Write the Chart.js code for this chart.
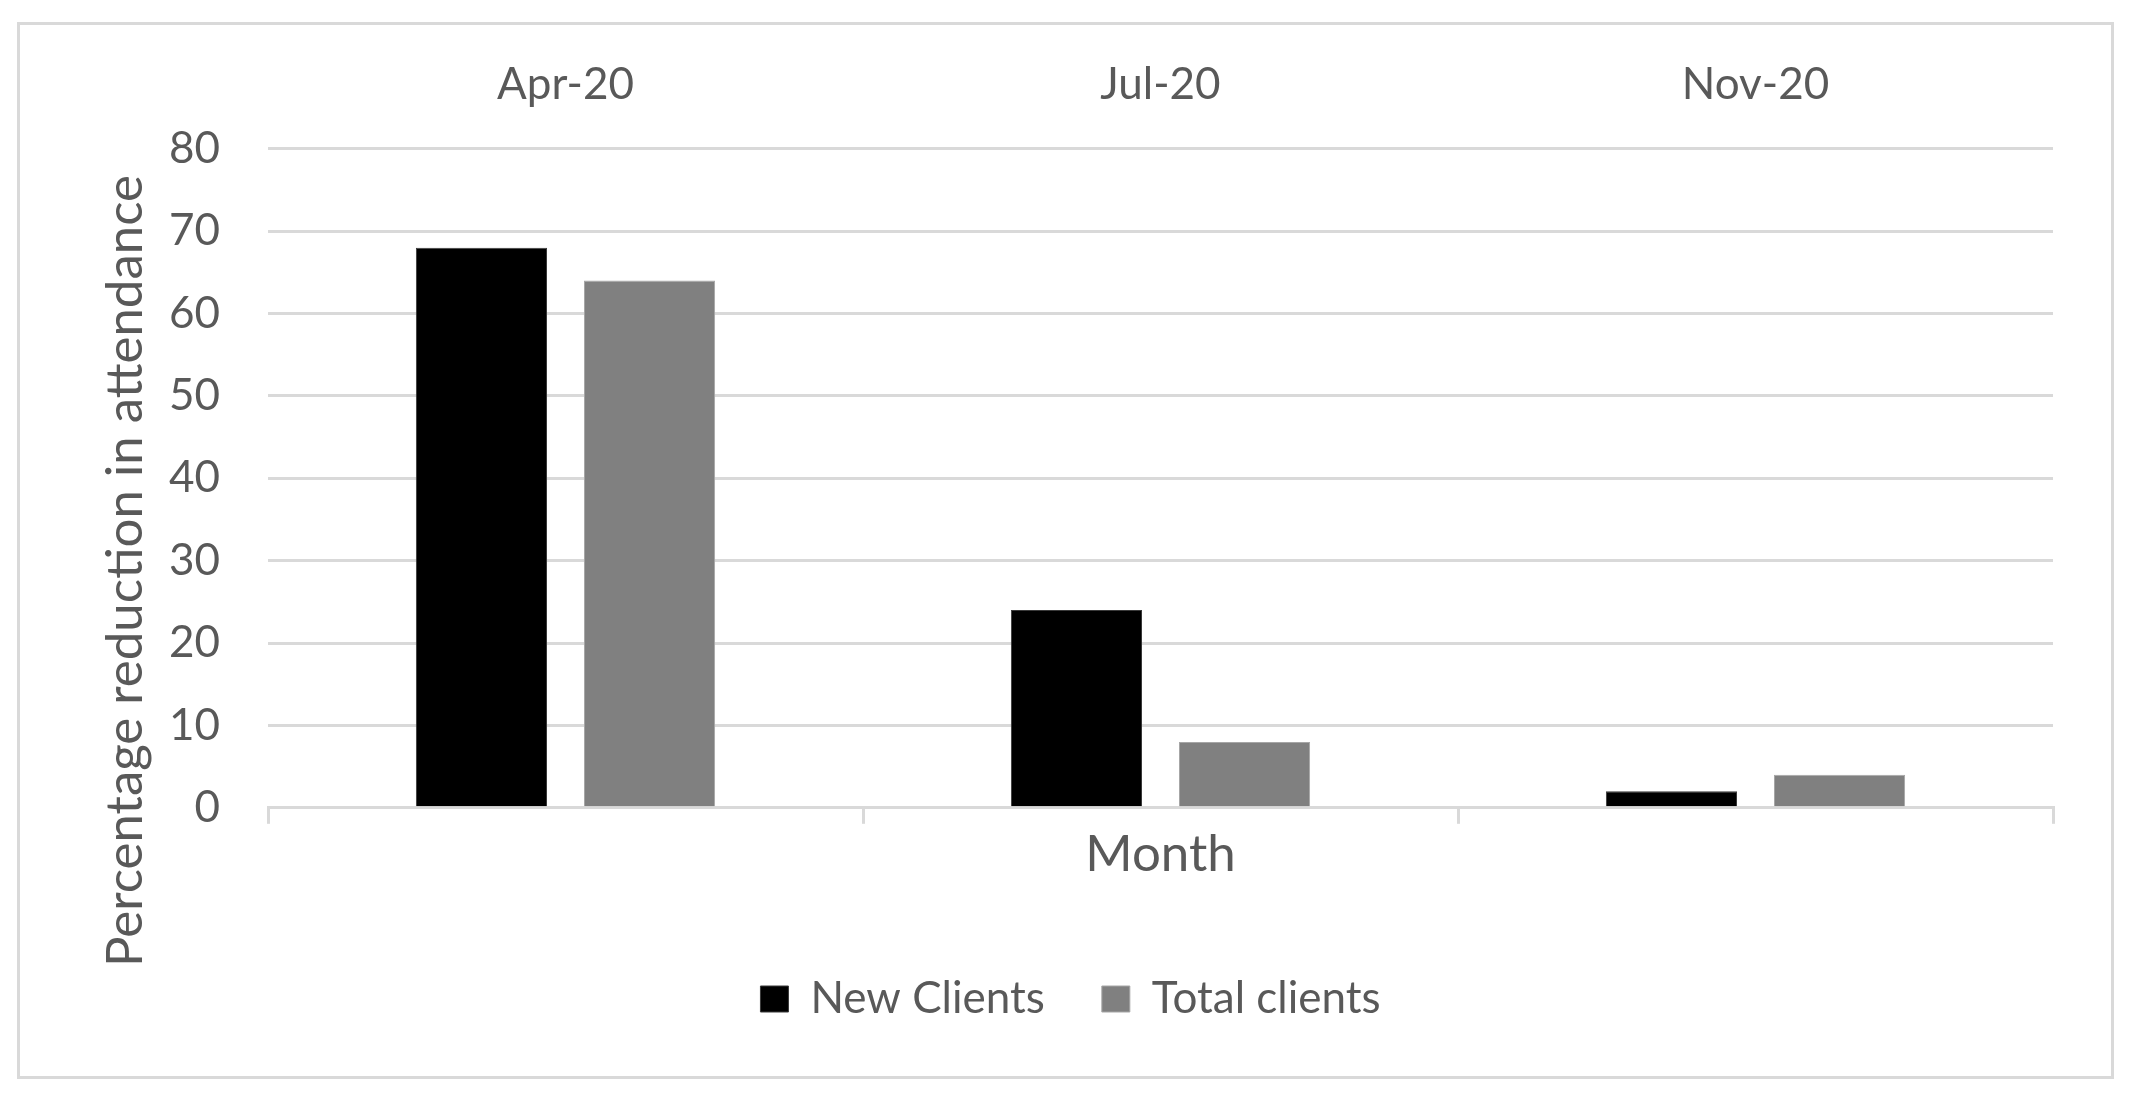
<!DOCTYPE html>
<html>
<head>
<meta charset="utf-8">
<script src="https://cdn.jsdelivr.net/npm/chart.js@4"></script>
<style>
	html, body { margin: 0; padding: 0; background: #fff; }
	#wrap { position: relative; width: 2141px; height: 1099px; }
</style>
</head>
<body>
<div id="wrap"><canvas id="attendanceChart"></canvas></div>
<script>
const months = ["Apr-20", "Jul-20", "Nov-20"];
const newClients = [68, 24, 2];
const totalClients = [64, 8, 4];
const yTicks = [0, 10, 20, 30, 40, 50, 60, 70, 80];
const yTitle = "Percentage reduction in attendance";

const textColor = "#595959";
const gridColor = "#d9d9d9";
const fontFamily = "Lato, 'Open Sans', sans-serif";

// outer frame round the whole chart
const framePlugin = {
	id: "frame",
	beforeDraw(chart) {
		const ctx = chart.ctx;
		ctx.save();
		ctx.fillStyle = "#fff";
		ctx.fillRect(0, 0, chart.width, chart.height);
		ctx.strokeStyle = gridColor;
		ctx.lineWidth = 3;
		ctx.strokeRect(18.5, 23.5, 2094, 1054);
		ctx.restore();
	}
};

// y title sits lower than the plot centre in the original, so draw it by hand
const yTitlePlugin = {
	id: "yTitle",
	afterDraw(chart) {
		const ctx = chart.ctx;
		ctx.save();
		ctx.translate(126, 571);
		ctx.rotate(-Math.PI / 2);
		ctx.fillStyle = textColor;
		ctx.font = `51px ${fontFamily}`;
		ctx.textAlign = "center";
		ctx.textBaseline = "middle";
		ctx.fillText(yTitle, 0, 0);
		ctx.restore();
	}
};

new Chart(document.getElementById("attendanceChart"), {
	type: "bar",
	data: {
		labels: months,
		datasets: [
			{
				label: "New Clients",
				data: newClients,
				backgroundColor: "#000000",
				borderColor: "#3a3a3a",
				borderWidth: 1,
				categoryPercentage: 0.565,
				barPercentage: 0.78
			},
			{
				label: "Total clients",
				data: totalClients,
				backgroundColor: "#808080",
				borderColor: "#a6a6a6",
				borderWidth: 1,
				categoryPercentage: 0.565,
				barPercentage: 0.78
			}
		]
	},
	options: {
		responsive: true,
		maintainAspectRatio: false,
		animation: false,
		devicePixelRatio: 1,
		layout: { padding: { top: 28, bottom: 68, left: 0, right: 0 } },
		plugins: {
			legend: {
				position: "bottom",
				labels: {
					color: textColor,
					font: { family: fontFamily, size: 44 },
					boxWidth: 28,
					boxHeight: 26,
					padding: 57
				}
			},
			tooltip: { enabled: false }
		},
		scales: {
			x: {
				position: "bottom",
				offset: true,
				grid: {
					offset: true,
					drawOnChartArea: false,
					color: gridColor,
					lineWidth: 3,
					tickLength: 16
				},
				border: { color: gridColor, width: 3 },
				ticks: { display: false },
				title: {
					display: true,
					text: "Month",
					color: textColor,
					font: { family: fontFamily, size: 51 },
					padding: { top: 0, bottom: 35 }
				}
			},
			xTop: {
				type: "category",
				position: "top",
				labels: months,
				offset: true,
				grid: { display: false },
				border: { display: false },
				ticks: {
					color: textColor,
					font: { family: fontFamily, size: 44 },
					padding: 30
				}
			},
			y: {
				min: 0,
				max: 80,
				afterBuildTicks(axis) {
					axis.ticks = yTicks.map(v => ({ value: v }));
				},
				afterFit(axis) { axis.width = 268; },
				grid: { color: gridColor, lineWidth: 3, drawTicks: false },
				border: { display: false },
				ticks: {
					color: textColor,
					font: { family: fontFamily, size: 44 },
					padding: 48
				}
			},
			yRight: {
				position: "right",
				min: 0,
				max: 80,
				afterFit(axis) { axis.width = 88; },
				grid: { display: false },
				border: { display: false },
				ticks: { display: false }
			}
		}
	},
	plugins: [framePlugin, yTitlePlugin]
});
</script>
</body>
</html>
